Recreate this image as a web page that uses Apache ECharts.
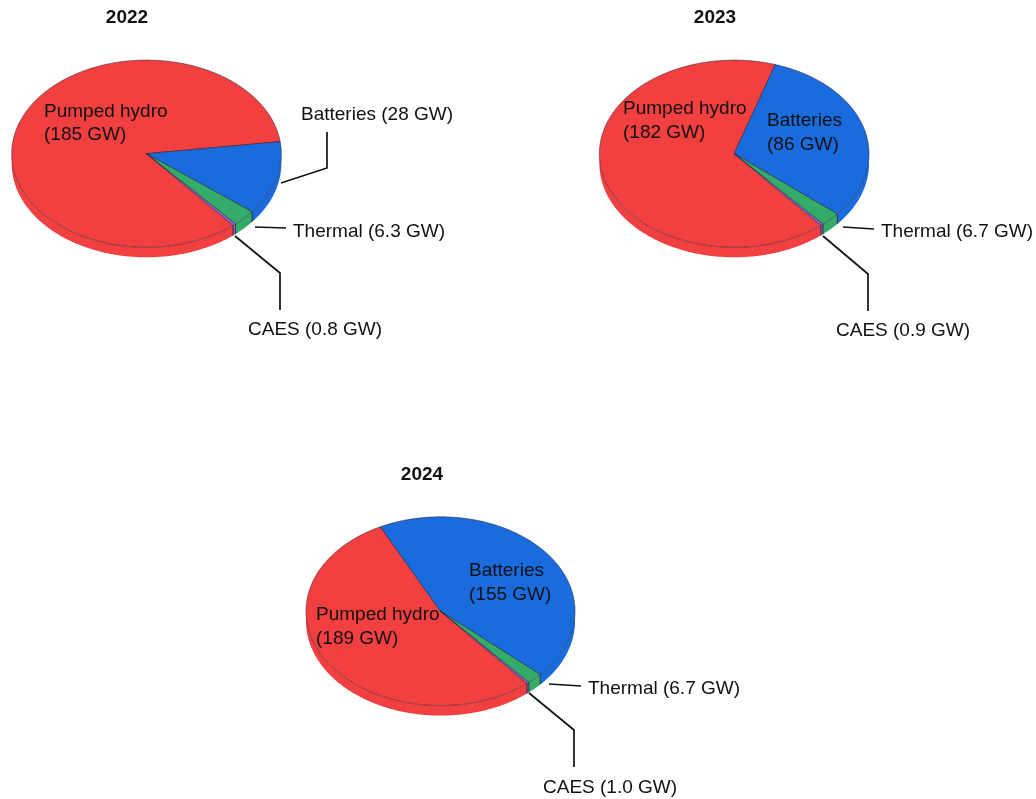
<!DOCTYPE html>
<html>
<head>
<meta charset="utf-8">
<title>Energy storage capacity by technology</title>
<script src="https://cdn.jsdelivr.net/npm/echarts@6/dist/echarts.min.js"></script>
<style>
  html, body { margin: 0; padding: 0; background: #fff; }
  #chart { width: 1036px; height: 799px; }
</style>
</head>
<body>
<div id="chart"></div>
<script>
// Installed storage capacity, GW
const categories = ['Pumped hydro', 'Batteries', 'Thermal', 'CAES'];
const years = ['2022', '2023', '2024'];
const gw2022 = [185, 28, 6.3, 0.8];
const gw2023 = [182, 86, 6.7, 0.9];
const gw2024 = [189, 155, 6.7, 1.0];

const colors = ['#F24040', '#1A6BDE', '#34AB68', '#9A63CC'];
const FONT = '"Liberation Sans", Arial, sans-serif';
const FONT_SIZE = 19;
const LINE_HEIGHT = 23.5;
const OUTLINE = 'rgba(25,25,45,0.72)';
const START_ANGLE = -50;   // first slice begins here, degrees, then runs clockwise
const DEPTH = 10;          // thickness of the disc

// Disc frame, title and label placement for each year
const frames = [
  {
    cx: 146.5, cy: 153.7, rx: 134.8, ry: 93.6, title: [127, 18],
    labels: [
      { x: 44, y: 123.5, wrap: true },
      { x: 301, y: 114.5 },
      { x: 293, y: 231.5 },
      { x: 248, y: 329.5 }
    ],
    leaders: [
      null,
      [[281, 183], [327, 168], [327, 132]],
      [[255, 227], [286, 228]],
      [[235, 236], [280, 273], [280, 310]]
    ]
  },
  {
    cx: 734.2, cy: 153.7, rx: 134.8, ry: 93.6, title: [715, 18],
    labels: [
      { x: 623, y: 121, wrap: true },
      { x: 767, y: 133, wrap: true },
      { x: 881, y: 231.5 },
      { x: 836, y: 330.5 }
    ],
    leaders: [
      null,
      null,
      [[843, 227], [874, 229]],
      [[823, 236], [868, 274], [868, 311]]
    ]
  },
  {
    cx: 440.5, cy: 611.2, rx: 134.5, ry: 94.4, title: [422, 475.5],
    labels: [
      { x: 316, y: 627, wrap: true },
      { x: 469, y: 583, wrap: true },
      { x: 588, y: 688.5 },
      { x: 543, y: 787.5 }
    ],
    leaders: [
      null,
      null,
      [[549, 684], [581, 686]],
      [[529, 693], [574, 730], [574, 767]]
    ]
  }
];

const gwText = v => (v < 10 ? v.toFixed(1) : String(v));

function rimPoint(f, deg, dy) {
  const a = deg * Math.PI / 180;
  return [f.cx + f.rx * Math.cos(a), f.cy - f.ry * Math.sin(a) + (dy || 0)];
}

function arcPoints(f, from, to, dy) {
  const steps = Math.max(2, Math.ceil(Math.abs(to - from) * 2));
  const pts = [];
  for (let i = 0; i <= steps; i++) pts.push(rimPoint(f, from + (to - from) * i / steps, dy));
  return pts;
}

// One slice: the visible outer wall, the top face, its label and its leader line
function makeRenderItem(values, frame) {
  const total = values.reduce((s, v) => s + v, 0);
  return function (params, api) {
    const i = params.dataIndex;
    const before = values.slice(0, i).reduce((s, v) => s + v, 0);
    const a0 = START_ANGLE - before / total * 360;
    const a1 = a0 - api.value(0) / total * 360;
    const children = [];
    const edge = { stroke: OUTLINE, lineWidth: 0.7, fill: null };

    // Only the near half of the rim shows a wall; its lower edge has no outline
    [[0, -180], [-360, -540]].forEach(function (band) {
      const hi = Math.min(a0, band[0]);
      const lo = Math.max(a1, band[1]);
      if (hi <= lo) return;
      const top = arcPoints(frame, hi, lo, 0);
      const bottom = arcPoints(frame, lo, hi, DEPTH);
      children.push({
        type: 'polygon',
        shape: { points: top.concat(bottom) },
        style: { fill: colors[i] }
      });
      [hi, lo].forEach(function (corner) {
        if (corner === band[0] || corner === band[1]) return;
        children.push({
          type: 'polyline',
          z2: 5,
          shape: { points: [rimPoint(frame, corner, 0), rimPoint(frame, corner, DEPTH)] },
          style: edge
        });
      });
    });

    children.push({
      type: 'polygon',
      z2: 4,
      shape: { points: [[frame.cx, frame.cy]].concat(arcPoints(frame, a0, a1, 0)) },
      style: { fill: colors[i], stroke: OUTLINE, lineWidth: 0.7 }
    });

    const leader = frame.leaders[i];
    if (leader) {
      children.push({
        type: 'polyline',
        z2: 20,
        shape: { points: leader },
        style: { stroke: '#111', lineWidth: 1.7, fill: null }
      });
    }

    const place = frame.labels[i];
    const amount = gwText(api.value(0)) + ' GW';
    children.push({
      type: 'text',
      z2: 30,
      style: {
        x: place.x,
        y: place.y,
        text: categories[i] + (place.wrap ? '\n(' : ' (') + amount + ')',
        font: FONT_SIZE + 'px ' + FONT,
        lineHeight: LINE_HEIGHT,
        fill: '#111',
        align: 'left',
        verticalAlign: 'middle'
      }
    });
    return { type: 'group', children: children };
  };
}

const yearValues = [gw2022, gw2023, gw2024];

const option = {
  animation: false,
  backgroundColor: '#fff',
  title: years.map((y, k) => ({
    text: y,
    left: frames[k].title[0],
    top: frames[k].title[1] - 10,
    padding: 0,
    textAlign: 'center',
    textStyle: { fontFamily: FONT, fontSize: FONT_SIZE, fontWeight: 'bold', color: '#111' }
  })),
  series: years.map((y, k) => ({
    type: 'custom',
    name: y,
    coordinateSystem: 'none',
    silent: true,
    renderItem: makeRenderItem(yearValues[k], frames[k]),
    data: yearValues[k].map((v, j) => ({ name: categories[j], value: [v] }))
  }))
};

echarts.init(document.getElementById('chart'), null, { renderer: 'canvas' }).setOption(option);
</script>
</body>
</html>
